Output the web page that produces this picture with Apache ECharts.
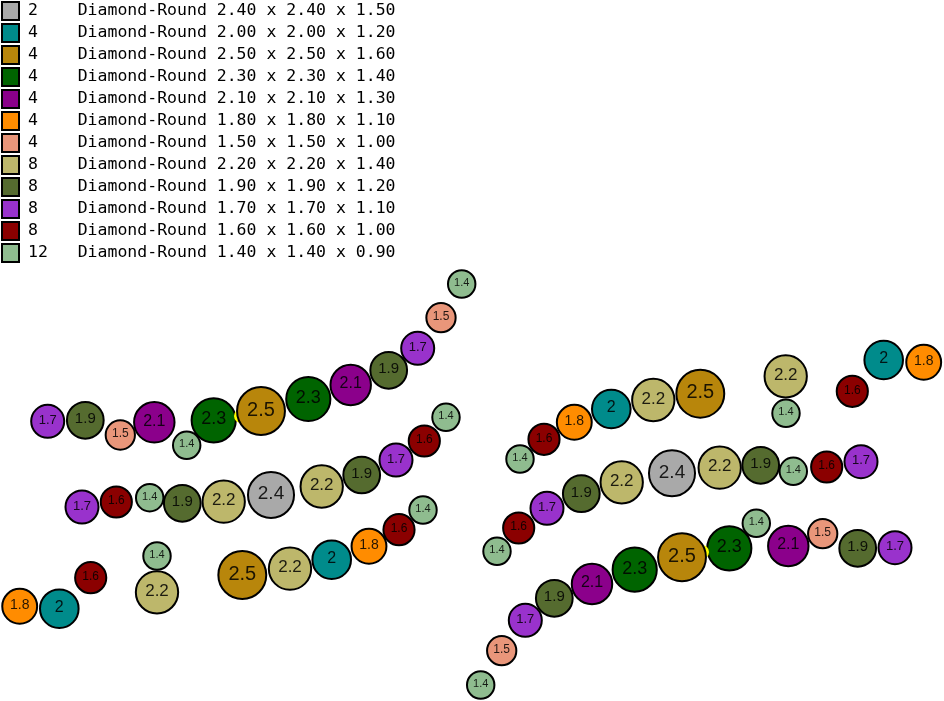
<!DOCTYPE html>
<html>
<head>
<meta charset="utf-8">
<title>Bead layout</title>
<script src="https://cdn.jsdelivr.net/npm/echarts@6/dist/echarts.min.js"></script>
<style>
    html, body { margin: 0; padding: 0; background: #fff; }
    #chart { width: 944px; height: 701px; }
</style>
</head>
<body>
<div id="chart"></div>
<script>
// Bead kinds, in legend order
const beadValues = [2.4, 2, 2.5, 2.3, 2.1, 1.8, 1.5, 2.2, 1.9, 1.7, 1.6, 1.4];
const beadCounts = [2, 4, 4, 4, 4, 4, 4, 8, 8, 8, 8, 12];
const beadShapes = [
    '2.40 x 2.40 x 1.50', '2.00 x 2.00 x 1.20', '2.50 x 2.50 x 1.60', '2.30 x 2.30 x 1.40',
    '2.10 x 2.10 x 1.30', '1.80 x 1.80 x 1.10', '1.50 x 1.50 x 1.00', '2.20 x 2.20 x 1.40',
    '1.90 x 1.90 x 1.20', '1.70 x 1.70 x 1.10', '1.60 x 1.60 x 1.00', '1.40 x 1.40 x 0.90'
];
const beadColors = [
    '#A9A9A9', '#008B8B', '#B8860B', '#006400', '#8B008B', '#FF8C00',
    '#E9967A', '#BDB76B', '#556B2F', '#9932CC', '#8B0000', '#8FBC8F'
];

// Bead centres, x then y
const beads24 = [[271, 495], [672, 473.3]];
const beads20 = [[331.7, 559.7], [59.3, 608.7], [611.3, 409], [883.7, 360]];
const beads25 = [[261, 411], [242.3, 575], [700.3, 393.7], [682, 557.3]];
const beads23 = [[308.3, 399], [213.7, 420.3], [634.7, 569.7], [729.3, 548.3]];
const beads21 = [[350.7, 385], [154.3, 422.3], [592, 584], [788.3, 546]];
const beads18 = [[369, 546.3], [19.7, 606.3], [574.3, 422.3], [923.7, 362.3]];
const beads15 = [[441, 317.7], [120.3, 435], [501.7, 650.7], [822.7, 533.7]];
const beads22 = [
    [321.7, 486.5], [223.7, 501.7], [290, 568.7], [157, 592.3],
    [653.3, 400], [785.7, 376.3], [719.7, 467.7], [621.7, 482.3]
];
const beads19 = [
    [388.7, 370.3], [85.3, 420.3], [361.7, 475], [182.3, 503.3],
    [760.7, 465.3], [581.3, 493.7], [554.3, 598.3], [857.7, 548.3]
];
const beads17 = [
    [417.7, 348.3], [47.7, 421.3], [396, 460], [82, 507],
    [861, 461.7], [547, 508.3], [525.3, 620.3], [895, 547.7]
];
const beads16 = [
    [424.3, 441], [116.3, 502], [399, 529.7], [90.7, 577.7],
    [544, 439.3], [852.3, 391.3], [826.7, 467], [518.7, 528]
];
const beads14 = [
    [461.7, 284], [186.7, 445.3], [446, 417.3], [149.7, 497.7],
    [423, 510], [157, 556], [520, 459], [786, 413.3],
    [793.3, 471.3], [497, 551.3], [480.7, 685], [756.3, 523.3]
];
const beadPoints = [
    beads24, beads20, beads25, beads23, beads21, beads18,
    beads15, beads22, beads19, beads17, beads16, beads14
];

// Small yellow spacers that peek out next to the 2.5 beads
const spacers = [[241, 416], [702, 552]];

function legendName(i) {
    return String(beadCounts[i]).padEnd(5, ' ') + 'Diamond-Round ' + beadShapes[i];
}

const legendNames = beadValues.map((value, i) => legendName(i));

const series = beadValues.map((value, i) => ({
    name: legendNames[i],
    type: 'scatter',
    data: beadPoints[i],
    symbol: 'circle',
    // bead diameter drives both circle and label size
    symbolSize: 18.6 * value + 1.4,
    // the 2.5 beads sit on top of the spacers, everything else below them
    z: value === 2.5 ? 4 : 2,
    itemStyle: {
        color: beadColors[i],
        opacity: 1,
        borderColor: '#000',
        borderWidth: 2
    },
    label: {
        show: true,
        position: 'inside',
        formatter: String(value),
        color: '#000',
        opacity: 0.85,
        fontFamily: 'Liberation Sans',
        fontSize: Math.round(8 * value - 0.5),
        offset: [0, -1]
    },
    emphasis: { disabled: true },
    silent: true
}));

series.push({
    name: 'spacer',
    type: 'scatter',
    data: spacers,
    symbol: 'circle',
    symbolSize: 14,
    z: 3,
    itemStyle: { color: '#FFFF00', opacity: 1 },
    silent: true
});

const chart = echarts.init(document.getElementById('chart'), null, { renderer: 'canvas' });

chart.setOption({
    animation: false,
    backgroundColor: '#fff',
    grid: { left: 0, right: 0, top: 0, bottom: 0 },
    xAxis: { type: 'value', min: 0, max: 944, show: false },
    yAxis: { type: 'value', min: 0, max: 701, inverse: true, show: false },
    legend: {
        data: legendNames,
        orient: 'vertical',
        left: 1,
        top: 1,
        padding: 0,
        icon: 'rect',
        itemWidth: 17,
        itemHeight: 18,
        itemGap: 2,
        selectedMode: false,
        align: 'left',
        itemStyle: { borderJoin: 'miter' },
        textStyle: {
            fontFamily: 'DejaVu Sans Mono',
            fontSize: 16.5,
            color: '#000',
            padding: [0, 0, 0, 4],
            lineHeight: 17
        }
    },
    series: series
});
</script>
</body>
</html>
